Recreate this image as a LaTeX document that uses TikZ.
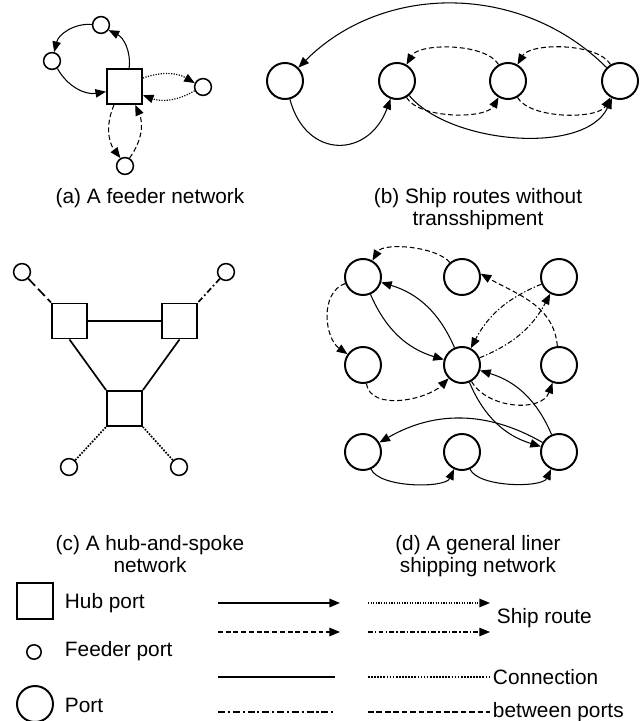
\documentclass[tikz,border=0pt]{standalone}
\usepackage{fontspec}
\setmainfont{Liberation Sans}
\usetikzlibrary{arrows.meta}

\begin{document}
\begin{tikzpicture}[x=0.025cm, y=0.025cm,
	hub/.style={draw, line width=1.4pt, minimum size=0.875cm, inner sep=0pt},
	feeder/.style={draw, circle, line width=1.1pt, minimum size=0.42cm, inner sep=0pt},
	port/.style={draw, circle, line width=1.4pt, minimum size=0.9cm, inner sep=0pt},
	route/.style={line width=0.75pt, -{Triangle[length=7.5pt, width=6pt]}},
	dotroute/.style={route, line width=0.85pt, densely dotted},
	dashroute/.style={route, dash pattern=on 3.5pt off 2pt},
	dashdotroute/.style={route, dash pattern=on 3.5pt off 1.5pt on 1pt off 1.5pt},
	link/.style={line width=1.2pt},
	caption/.style={anchor=base, font=\fontsize{14.8pt}{15.6pt}\selectfont},
	legend/.style={anchor=west, font=\fontsize{14.8pt}{15.6pt}\selectfont}]
	\useasboundingbox (0,0) rectangle (641,721);
	% (a) feeder network
	\node[hub] (hubA) at (124.5,634.5) {};
	\node[feeder] (fa1) at (101,696) {};
	\node[feeder] (fa2) at (52,660) {};
	\node[feeder] (fa3) at (203,634) {};
	\node[feeder] (fa4) at (125,555) {};
	\draw[route] (hubA) to[bend right=35] (fa1);
	\draw[route] (fa1) to[bend right=40] (fa2);
	\draw[route] (fa2) to[bend right=35] (hubA);
	\draw[dotroute] (hubA) to[bend left=25] (fa3);
	\draw[dotroute] (fa3) to[bend left=25] (hubA);
	\draw[dashroute] (hubA) to[bend right=30] (fa4);
	\draw[dashroute] (fa4) to[bend right=30] (hubA);
	\node[caption] (capA) at (150,517) {(a) A feeder network};
	% (b) ship routes
	\node[port] (b1) at (285,640) {};
	\node[port] (b2) at (397,640) {};
	\node[port] (b3) at (508,640) {};
	\node[port] (b4) at (620,640) {};
	\draw[route] (b4) to[bend right=45] (b1);
	\draw[route] (b1) to[out=-75, in=-110, looseness=1.6] (b2);
	\draw[route] (b2) to[out=-50, in=-115, looseness=0.8] (b4);
	\draw[dashroute] (b2) to[out=-60, in=-120, looseness=0.7] (b3);
	\draw[dashroute] (b3) to[out=-60, in=-120, looseness=0.7] (b4);
	\draw[dashroute] (b4) to[out=120, in=60, looseness=0.7] (b3);
	\draw[dashroute] (b3) to[out=120, in=60, looseness=0.7] (b2);
	\node[caption] (capB1) at (478,517) {(b) Ship routes without};
	\node[caption] (capB2) at (478,495) {transshipment};
	% (c) hub-and-spoke
	\node[hub] (hc1) at (69.5,400) {};
	\node[hub] (hc2) at (179.5,400) {};
	\node[hub] (hc3) at (124.5,312.5) {};
	\node[feeder] (fc1) at (22,449) {};
	\node[feeder] (fc2) at (226,449) {};
	\node[feeder] (fc3) at (69,254) {};
	\node[feeder] (fc4) at (179,254) {};
	\draw[link] (hc1) -- (hc2);
	\draw[link] (hc1.south) -- (hc3.north west);
	\draw[link] (hc2.south) -- (hc3.north east);
	\draw[link, dash pattern=on 7pt off 3pt] (fc1) -- (hc1.north west);
	\draw[link, dash pattern=on 4pt off 2pt on 1.2pt off 2pt] (fc2) -- (hc2.north east);
	\draw[link, densely dotted] (fc3) -- (hc3.south west);
	\draw[link, densely dotted] (fc4) -- (hc3.south east);
	\node[caption] (capC1) at (150,170) {(c) A hub-and-spoke};
	\node[caption] (capC2) at (150,148) {network};
	% (d) general network
	\node[port] (n11) at (363,444) {};
	\node[port] (n12) at (462,444) {};
	\node[port] (n13) at (559,444) {};
	\node[port] (n21) at (363,356) {};
	\node[port] (n22) at (462,356) {};
	\node[port] (n23) at (559,356) {};
	\node[port] (n31) at (363,269) {};
	\node[port] (n32) at (462,269) {};
	\node[port] (n33) at (559,269) {};
	\draw[dashroute] (n12) to[out=130, in=60, looseness=0.7] (n11);
	\draw[dashroute] (n11) to[out=200, in=145] (n21);
	\draw[dashroute] (n21) to[out=-80, in=-135, looseness=0.9] (n22);
	\draw[dashroute] (n22) to[out=-60, in=-110] (n23);
	\draw[dashroute] (n23.95) to[out=95, in=-30] (n12.10);
	\draw[dashdotroute] (n13) to[bend right=20] (n22);
	\draw[dashdotroute] (n22) to[bend right=20] (n13);
	\draw[route] (n11) to[bend right=25] (n22);
	\draw[route] (n22) to[bend right=25] (n11);
	\draw[route] (n22) to[bend right=25] (n33);
	\draw[route] (n33) to[bend right=25] (n22);
	\draw[route] (n33) to[bend right=30] (n31);
	\draw[route] (n31) to[out=-65, in=-115, looseness=0.65] (n32);
	\draw[route] (n32) to[out=-65, in=-115, looseness=0.65] (n33);
	\node[caption] (capD1) at (478,170) {(d) A general liner};
	\node[caption] (capD2) at (478,148) {shipping network};
	% legend
	\node[hub, minimum size=0.9cm] (keyHub) at (35,120) {};
	\node[legend] (txtHub) at (60,118) {Hub port};
	\node[feeder, minimum size=0.36cm] (keyFeeder) at (34,69) {};
	\node[legend] (txtFeeder) at (60,70) {Feeder port};
	\node[port] (keyPort) at (35,17) {};
	\node[legend] (txtPort) at (60,16) {Port};
	\coordinate (r1a) at (218,118); \coordinate (r1b) at (340,118);
	\coordinate (r1c) at (368,118); \coordinate (r1d) at (490,118);
	\coordinate (r2a) at (218,89); \coordinate (r2b) at (340,89);
	\coordinate (r2c) at (368,89); \coordinate (r2d) at (490,89);
	\coordinate (r3a) at (218,44); \coordinate (r3b) at (335,44);
	\coordinate (r3c) at (368,44); \coordinate (r3d) at (490,44);
	\coordinate (r4a) at (218,9); \coordinate (r4b) at (335,9);
	\coordinate (r4c) at (368,9); \coordinate (r4d) at (490,9);
	\draw[route, line width=1.1pt] (r1a) -- (r1b);
	\draw[dotroute] (r1c) -- (r1d);
	\draw[dashroute] (r2a) -- (r2b);
	\draw[dashdotroute] (r2c) -- (r2d);
	\node[legend] (txtRoute) at (492,103) {Ship route};
	\draw[link, line width=1.5pt] (r3a) -- (r3b);
	\draw[link, densely dotted] (r3c) -- (r3d);
	\node[legend] (txtConn) at (488,44) {Connection};
	\draw[link, line width=1.5pt, dash pattern=on 5pt off 2pt on 1.5pt off 2pt] (r4a) -- (r4b);
	\draw[link, dash pattern=on 4pt off 2pt] (r4c) -- (r4d);
	\node[legend] (txtBetween) at (488,9) {between ports};
\end{tikzpicture}
\end{document}
